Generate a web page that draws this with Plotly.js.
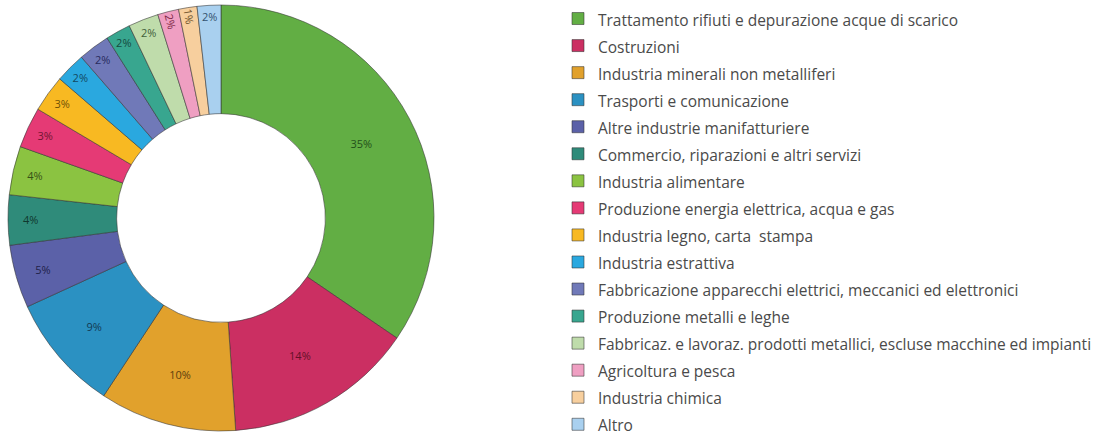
<!DOCTYPE html>
<html>
<head>
<meta charset="utf-8">
<script src="https://cdn.plot.ly/plotly-3.0.1.min.js"></script>
<style>html,body{margin:0;padding:0;background:#fff;}#chart{width:1105px;height:437px;}</style>
</head>
<body>
<div id="chart"></div>
<script>
const categories = [
  "Trattamento rifiuti e depurazione acque di scarico",
  "Costruzioni",
  "Industria minerali non metalliferi",
  "Trasporti e comunicazione",
  "Altre industrie manifatturiere",
  "Commercio, riparazioni e altri servizi",
  "Industria alimentare",
  "Produzione energia elettrica, acqua e gas",
  "Industria legno, carta  stampa",
  "Industria estrattiva",
  "Fabbricazione apparecchi elettrici, meccanici ed elettronici",
  "Produzione metalli e leghe",
  "Fabbricaz. e lavoraz. prodotti metallici, escluse macchine ed impianti",
  "Agricoltura e pesca",
  "Industria chimica",
  "Altro"
];
const shares = [34.6, 14.4, 10.4, 8.9, 4.8, 3.8, 3.7, 3.1, 2.8, 2.3, 2.4, 1.9, 2.3, 1.6, 1.4, 1.8];
const sliceColors = [
  "#62ae44", "#cb2f62", "#e1a12c", "#2b91c2", "#5b61a8", "#2f8b7a",
  "#8bc341", "#e53a75", "#f8b922", "#2aa8df", "#7079b8", "#38a68f",
  "#bfdcab", "#ef9fc2", "#f7cf9e", "#a9d0ef"
];
const labelColors = [
  "#22501a", "#641028", "#5e400c", "#123a54", "#1f2248", "#10382f",
  "#375216", "#701532", "#6e5006", "#124862", "#282b5e", "#144a40",
  "#42603a", "#7e2a48", "#6e522a", "#34526e"
];

const trace = {
  type: "pie",
  labels: categories.map(c => '<span style="font-size:15.5px">' + c + '</span>'),
  values: shares,
  sort: false,
  direction: "clockwise",
  rotation: 0,
  hole: 0.49,
  marker: {colors: sliceColors, line: {color: "rgba(50,50,50,0.55)", width: 1}},
  textinfo: "percent",
  texttemplate: "%{percent:.0%}",
  textposition: "inside",
  insidetextorientation: "auto",
  textfont: {family: "Open Sans, sans-serif", size: 11, color: labelColors},
  domain: {x: [8/1105, 434/1105], y: [6/437, 432/437]},
  hoverinfo: "label+percent"
};

const layout = {
  width: 1105, height: 437,
  margin: {l: 0, r: 0, t: 0, b: 0},
  paper_bgcolor: "#ffffff",
  showlegend: true,
  legend: {
    x: 558/1105, y: 1 - 6/437, xanchor: "left", yanchor: "top",
    font: {family: "Open Sans, sans-serif", size: 18.5, color: "#4a4a4a"},
    bgcolor: "rgba(0,0,0,0)", borderwidth: 0, traceorder: "normal"
  }
};

Plotly.newPlot("chart", [trace], layout, {displayModeBar: false, staticPlot: true});
</script>
</body>
</html>
